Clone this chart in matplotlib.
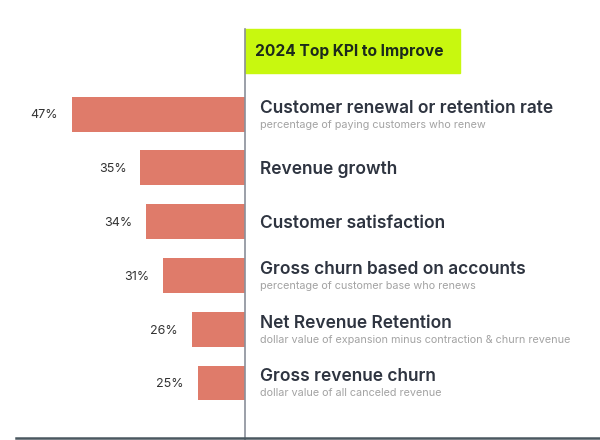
import matplotlib.pyplot as plt
from matplotlib.lines import Line2D
from matplotlib.patches import Rectangle
import matplotlib.transforms as mtransforms

# data
kpis = [
    "Customer renewal or retention rate",
    "Revenue growth",
    "Customer satisfaction",
    "Gross churn based on accounts",
    "Net Revenue Retention",
    "Gross revenue churn",
]
notes = [
    "percentage of paying customers who renew",
    "",
    "",
    "percentage of customer base who renews",
    "dollar value of expansion minus contraction & churn revenue",
    "dollar value of all canceled revenue",
]
shares = [47, 35, 34, 31, 26, 25]
title = "2024 Top KPI to Improve"

W, H = 600, 440
BAR_C = "#df7b6a"
DARK = "#2e3440"
GREY = "#a3a3a3"
LIME = "#c8f80f"

plt.rcParams["font.family"] = ["Inter", "DejaVu Sans"]

fig = plt.figure(figsize=(W / 100, H / 100), dpi=100)
split = 245 / W
ax = fig.add_axes([0, 0, split, 1])
ypos = list(range(len(kpis)))
ax.barh(ypos, shares, height=0.65, color=BAR_C)
# truncated value axis, reversed so bars grow to the left of the divider
ax.set_xlim(59.6, 16.7)
ax.set_ylim(6.06, -2.12)
ax.axis("off")

for y, v in zip(ypos, shares):
    ax.annotate(f"{v}%", (v, y), xytext=(-10, -1), textcoords="offset points",
                ha="right", va="center", fontsize=9, color="#333333",
                annotation_clip=False)

# labels on the right, x in figure coords, y in data coords
tr = mtransforms.blended_transform_factory(fig.transFigure, ax.transData)
px = 53.8  # pixels per row
for y, name, note in zip(ypos, kpis, notes):
    if note:
        fig.text(260 / W, y - 6 / px, name, transform=tr, ha="left", va="center",
                 fontsize=12.5, fontweight="semibold", color=DARK)
        fig.text(260 / W, y + 10.5 / px, note, transform=tr, ha="left", va="center",
                 fontsize=7.8, color=GREY)
    else:
        fig.text(260 / W, y + 1.5 / px, name, transform=tr, ha="left", va="center",
                 fontsize=12.5, fontweight="semibold", color=DARK)

# title box
fig.patches.append(Rectangle((245 / W, 1 - 73 / H), 215 / W, 44 / H,
                             transform=fig.transFigure, color=LIME, zorder=0))
fig.text(255 / W, 1 - 51 / H, title, ha="left", va="center",
         fontsize=11.2, fontweight="bold", color="#1c2a1c")

# divider and baseline
fig.lines.append(Line2D([split, split], [0, 1 - 29 / H], transform=fig.transFigure,
                        color="#8a8f9a", lw=1.2))
fig.lines.append(Line2D([16 / W, 1], [1 - 438 / H, 1 - 438 / H],
                        transform=fig.transFigure, color="#4a5860", lw=1.8))

fig.savefig("out.png", dpi=100)
